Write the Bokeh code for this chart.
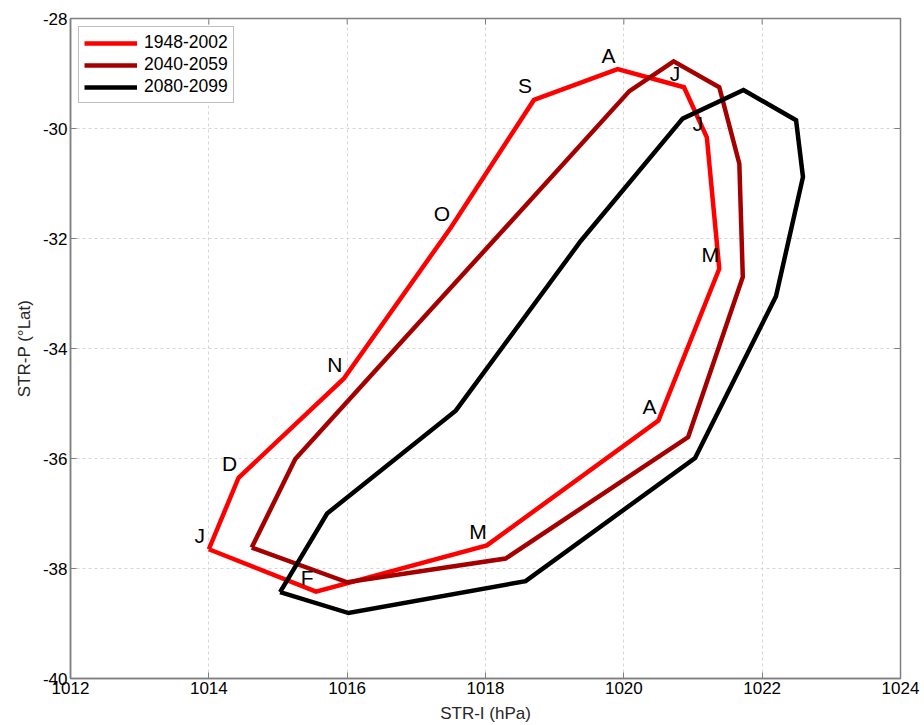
from bokeh.plotting import figure
from bokeh.models import Range1d, FixedTicker, ColumnDataSource
from bokeh.core.properties import value
from bokeh.embed import file_html
from bokeh.resources import INLINE

months = ["J", "F", "M", "A", "M", "J", "J", "A", "S", "O", "N", "D"]

x_1948 = [1014.00, 1015.55, 1018.02, 1020.50, 1021.38, 1021.20, 1020.87, 1019.91, 1018.70, 1017.50, 1015.95, 1014.43]
y_1948 = [-37.65, -38.42, -37.58, -35.31, -32.55, -30.16, -29.25, -28.92, -29.48, -31.80, -34.55, -36.35]

x_2040 = [1014.62, 1016.00, 1018.29, 1020.93, 1021.72, 1021.67, 1021.38, 1020.72, 1020.08, 1018.58, 1016.77, 1015.25]
y_2040 = [-37.62, -38.25, -37.82, -35.61, -32.70, -30.64, -29.25, -28.78, -29.32, -31.40, -33.90, -36.01]

x_2080 = [1015.03, 1016.02, 1018.58, 1021.03, 1022.20, 1022.59, 1022.49, 1021.73, 1020.85, 1019.38, 1017.57, 1015.71]
y_2080 = [-38.43, -38.81, -38.23, -35.99, -33.05, -30.88, -29.85, -29.30, -29.82, -32.04, -35.13, -37.00]

series_names = ["1948-2002", "2040-2059", "2080-2099"]
series_colors = ["#ff0000", "#a50000", "#000000"]

x_ticks = [1012, 1014, 1016, 1018, 1020, 1022, 1024]
x_tick_labels = ["1012", "1014", "1016", "1018", "1020", "1022", "1024"]
y_ticks = [-40, -38, -36, -34, -32, -30, -28]
y_tick_labels = ["-40", "-38", "-36", "-34", "-32", "-30", "-28"]

FONT = "Liberation Sans"
FW, FH = 830, 660
XMIN, XMAX, YMIN, YMAX = 1012, 1024, -40, -28

p = figure(frame_width=FW, frame_height=FH, output_backend="svg", toolbar_location=None,
           x_range=Range1d(XMIN, XMAX), y_range=Range1d(YMIN, YMAX),
           min_border_left=70, min_border_top=18, min_border_right=23, min_border_bottom=46)
p.background_fill_color = "white"
p.outline_line_color = "#7f7f7f"
p.outline_line_width = 1.5

for ax in (p.xaxis[0], p.yaxis[0]):
    ax.axis_line_color = "#7f7f7f"
    ax.axis_line_width = 1.5
    ax.major_tick_line_color = "#7f7f7f"
    ax.major_tick_in = 6
    ax.major_tick_out = 0
    ax.minor_tick_line_color = None
    ax.major_label_text_font = FONT
    ax.major_label_text_font_size = "17px"
    ax.major_label_text_color = "#000000"
    ax.axis_label_text_font = FONT
    ax.axis_label_text_font_size = "17px"
    ax.axis_label_text_font_style = "normal"
    ax.axis_label_text_color = "#262626"
    ax.major_label_standoff = 3

p.xaxis[0].ticker = FixedTicker(ticks=x_ticks)
p.yaxis[0].ticker = FixedTicker(ticks=y_ticks)
p.xaxis[0].major_label_overrides = dict(zip(x_ticks, x_tick_labels))
p.yaxis[0].major_label_overrides = dict(zip(y_ticks, y_tick_labels))
p.xaxis[0].axis_label = "STR-I (hPa)"
p.yaxis[0].axis_label = "STR-P (°Lat)"
p.xaxis[0].axis_label_standoff = 7
p.yaxis[0].axis_label_standoff = 6

# inward tick marks on the top and right edges (box on)
tick_dx = 6 * (XMAX - XMIN) / FW
tick_dy = 6 * (YMAX - YMIN) / FH
p.segment(x0=x_ticks, y0=[YMAX] * len(x_ticks), x1=x_ticks, y1=[YMAX - tick_dy] * len(x_ticks),
          line_color="#7f7f7f", line_width=1)
p.segment(x0=[XMAX] * len(y_ticks), y0=y_ticks, x1=[XMAX - tick_dx] * len(y_ticks), y1=y_ticks,
          line_color="#7f7f7f", line_width=1)

p.xgrid.ticker = FixedTicker(ticks=x_ticks)
p.ygrid.ticker = FixedTicker(ticks=y_ticks)
for g in (p.xgrid[0], p.ygrid[0]):
    g.grid_line_color = "#d6d6d6"
    g.grid_line_dash = "3 3"
    g.grid_line_width = 1

xs = [x_1948, x_2040, x_2080]
ys = [y_1948, y_2040, y_2080]
for name, color, xv, yv in zip(series_names, series_colors, xs, ys):
    p.line(xv + xv[:1], yv + yv[:1], line_color=color, line_width=4.5,
           line_join="miter", legend_label=name)

src = ColumnDataSource(dict(x=x_1948, y=y_1948, t=months))
p.text(x="x", y="y", text="t", source=src, text_font=value(FONT), text_font_size="21px",
       text_align="center", text_baseline="middle", x_offset=-9, y_offset=-14,
       text_color="#000000")

lg = p.legend[0]
lg.location = "top_left"
lg.margin = 8
lg.border_line_color = "#7f7f7f"
lg.border_line_width = 1
lg.label_text_font = FONT
lg.label_text_font_size = "17.5px"
lg.label_text_color = "#000000"
lg.glyph_width = 53
lg.glyph_height = 18
lg.label_height = 18
lg.label_standoff = 7
lg.spacing = 1
lg.padding = 5
lg.background_fill_alpha = 1

open("out.html", "w").write(file_html(p, INLINE))
